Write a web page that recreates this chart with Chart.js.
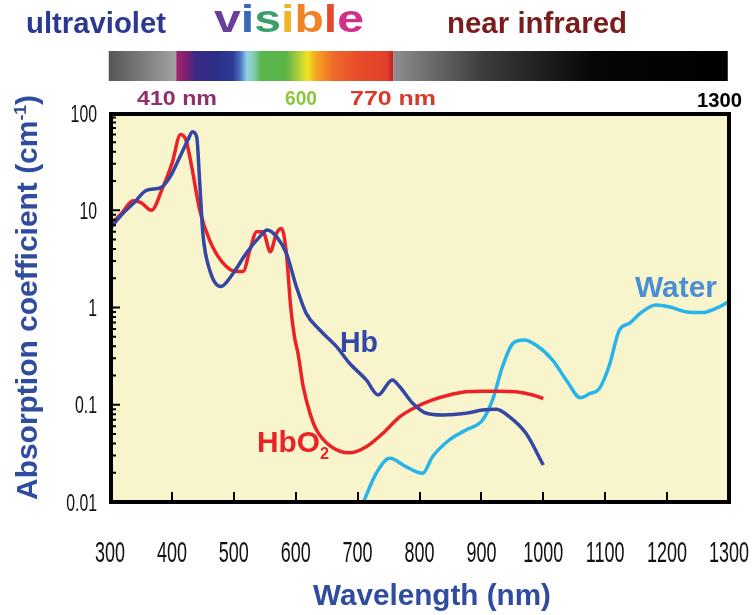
<!DOCTYPE html>
<html>
<head>
<meta charset="utf-8">
<title>Absorption spectra of Hb, HbO2 and water</title>
<script src="https://cdn.jsdelivr.net/npm/chart.js@4.4.1/dist/chart.umd.min.js"></script>
<style>
  html, body { margin: 0; padding: 0; background: #fff; }
  #spectra { display: block; }
</style>
</head>
<body>
<canvas id="spectra" width="753" height="615"></canvas>
<script>
// wavelength (nm) and absorption coefficient (cm-1) for each absorber
const hbNm = [300, 321, 338, 359, 383, 397, 413, 426, 433, 440, 445, 450, 461, 479, 499, 520, 542, 554, 569, 585, 601, 617, 639, 666, 687, 714, 733, 756, 768, 789, 811, 838, 875, 902, 924, 945, 972, 1000];
const hbMu = [6.5, 9.3, 11.8, 16, 17.2, 22, 35.5, 53, 64, 57, 19, 5.8, 2.43, 1.64, 2.25, 3.6, 5.35, 6.27, 5.35, 3.6, 1.64, 0.87, 0.587, 0.396, 0.267, 0.18, 0.126, 0.18, 0.153, 0.1035, 0.0817, 0.0785, 0.0817, 0.0883, 0.0897, 0.0754, 0.0508, 0.024];

const hbo2Nm = [300, 320, 337, 350, 367, 385, 400, 414, 423, 432, 445, 461, 482, 504, 515, 526, 537, 547, 559, 569, 577, 585, 592, 598, 604, 612, 623, 633, 655, 687, 714, 741, 768, 795, 821, 848, 875, 902, 929, 956, 983, 1000];
const hbo2Mu = [7.0, 9.5, 12.5, 12.0, 10.0, 17, 30, 60, 52, 28, 10, 4.9, 2.9, 2.35, 2.35, 3.9, 6.0, 6.0, 3.75, 5.8, 6.5, 3.6, 1.0, 0.5, 0.33, 0.155, 0.082, 0.056, 0.038, 0.032, 0.037, 0.051, 0.075, 0.095, 0.112, 0.126, 0.136, 0.138, 0.138, 0.136, 0.126, 0.116];

const waterNm = [708, 730, 752, 778, 805, 821, 848, 875, 902, 918, 934, 951, 969, 988, 1015, 1037, 1060, 1075, 1090, 1106, 1123, 1139, 1160, 1182, 1203, 1230, 1257, 1279, 1300];
const waterMu = [0.0095, 0.0197, 0.0281, 0.0231, 0.0197, 0.0292, 0.0434, 0.055, 0.0697, 0.112, 0.246, 0.428, 0.463, 0.411, 0.288, 0.18, 0.118, 0.13, 0.145, 0.246, 0.587, 0.687, 0.906, 1.06, 1.02, 0.906, 0.886, 0.98, 1.15];

const yTickValues = [0.01, 0.1, 1, 10, 100];
const yTickLabels = ['0.01', '0.1', '1', '10', '100'];

// colour strip above the plot: grey UV ramp, visible band, grey-to-black NIR ramp
const uvBand = [298, 407];
const visibleBand = [407, 758];
const nirBand = [758, 1298];
const visibleStops = [
  [407, '#a3246e'], [424, '#7a2070'], [437, '#3d2a86'], [469, '#2c2f88'], [498, '#2d3a94'],
  [510, '#4a6ec0'], [521, '#8fd3ea'], [531, '#86cdb8'], [545, '#58b54c'], [585, '#5cb447'],
  [606, '#b5d13a'], [619, '#f2e423'], [634, '#f6a323'], [660, '#ee6a2a'], [703, '#e84c2a'],
  [747, '#e0402a'], [756, '#c42424'], [758, '#b82020']
];

const HB_COLOR = '#3447a6';
const HBO2_COLOR = '#ec2227';
const WATER_COLOR = '#27b4ea';
const TITLE_BLUE = '#2f4c9e';
const SANS = "'Liberation Sans', Arial, sans-serif";

function toPoints(xs, ys) {
  return xs.map((x, i) => ({ x: x, y: ys[i] }));
}

// draw text starting at x, stretched/squeezed horizontally to the given width
function fitText(ctx, text, x, y, width, font, color) {
  ctx.save();
  ctx.font = font;
  ctx.fillStyle = color;
  ctx.textAlign = 'left';
  ctx.textBaseline = 'alphabetic';
  const w = ctx.measureText(text).width;
  ctx.translate(x, y);
  ctx.scale(width / w, 1);
  ctx.fillText(text, 0, 0);
  ctx.restore();
}

// narrow tick digits
function squeezeText(ctx, text, x, y, sx, align) {
  ctx.save();
  ctx.translate(x, y);
  ctx.scale(sx, 1);
  ctx.textAlign = align;
  ctx.fillText(text, 0, 0);
  ctx.restore();
}

const decorations = {
  id: 'decorations',
  beforeDraw(chart) {
    const ctx = chart.ctx;
    const area = chart.chartArea;
    const xs = chart.scales.x;
    ctx.save();
    ctx.fillStyle = '#ffffff';
    ctx.fillRect(0, 0, chart.width, chart.height);
    ctx.fillStyle = '#f8f5cd';
    ctx.fillRect(area.left, area.top, area.right - area.left, area.bottom - area.top);

    // colour strip
    const barTop = 51, barH = 30;
    let x0 = xs.getPixelForValue(uvBand[0]), x1 = xs.getPixelForValue(uvBand[1]);
    let g = ctx.createLinearGradient(x0, 0, x1, 0);
    g.addColorStop(0, '#565656');
    g.addColorStop(1, '#a2a2a2');
    ctx.fillStyle = g;
    ctx.fillRect(x0, barTop, x1 - x0, barH);

    x0 = xs.getPixelForValue(visibleBand[0]); x1 = xs.getPixelForValue(visibleBand[1]);
    g = ctx.createLinearGradient(x0, 0, x1, 0);
    visibleStops.forEach(([nm, c]) => {
      g.addColorStop((nm - visibleBand[0]) / (visibleBand[1] - visibleBand[0]), c);
    });
    ctx.fillStyle = g;
    ctx.fillRect(x0, barTop, x1 - x0, barH);

    x0 = xs.getPixelForValue(nirBand[0]); x1 = xs.getPixelForValue(nirBand[1]);
    g = ctx.createLinearGradient(x0, 0, x1, 0);
    g.addColorStop(0, '#8e8e8e');
    g.addColorStop(0.27, '#3c3c3c');
    g.addColorStop(0.6, '#060606');
    g.addColorStop(1, '#000000');
    ctx.fillStyle = g;
    ctx.fillRect(x0, barTop, x1 - x0, barH);

    // region names
    const bold = (px) => 'bold ' + px + 'px ' + SANS;
    fitText(ctx, 'ultraviolet', 26, 33, 140, bold(29), '#2b3990');
    fitText(ctx, 'near infrared', 447, 33, 180, bold(29), '#7b1c1c');

    const letters = ['v', 'i', 's', 'i', 'b', 'l', 'e'];
    const letterColors = ['#6a3f99', '#3a68b4', '#3aa06a', '#f0b428', '#f08424', '#e84a2e', '#d0308a'];
    ctx.font = bold(38);
    const full = ctx.measureText(letters.join('')).width;
    const sx = 150 / full;
    let cx = 214;
    letters.forEach((ch, i) => {
      ctx.save();
      ctx.font = bold(38);
      ctx.fillStyle = letterColors[i];
      ctx.textBaseline = 'alphabetic';
      ctx.translate(cx, 32);
      ctx.scale(sx, 1);
      ctx.fillText(ch, 0, 0);
      ctx.restore();
      cx += ctx.measureText(ch).width * sx;
    });

    fitText(ctx, '410 nm', 137, 105, 80, bold(21), '#8f2f6b');
    fitText(ctx, '600', 285, 105, 32, bold(21), '#8cc63e');
    fitText(ctx, '770 nm', 350, 105, 86, bold(21), '#d63a2b');
    fitText(ctx, '1300', 697, 107, 45, bold(21), '#000000');

    // axis titles
    fitText(ctx, 'Wavelength (nm)', 313, 605, 238, bold(29), TITLE_BLUE);

    ctx.save();
    ctx.translate(37, 500);
    ctx.rotate(-Math.PI / 2);
    ctx.fillStyle = TITLE_BLUE;
    ctx.textBaseline = 'alphabetic';
    ctx.font = bold(29);
    const main = 'Absorption coefficient (cm';
    const wMain = ctx.measureText(main).width;
    const wClose = ctx.measureText(')').width;
    ctx.font = bold(17);
    const wSup = ctx.measureText('-1').width;
    const s = 405 / (wMain + wSup + wClose);
    ctx.scale(s, 1);
    ctx.font = bold(29);
    ctx.fillText(main, 0, 0);
    ctx.font = bold(17);
    ctx.fillText('-1', wMain, -11);
    ctx.font = bold(29);
    ctx.fillText(')', wMain + wSup, 0);
    ctx.restore();

    ctx.restore();
  },
  afterDatasetsDraw(chart) {
    const ctx = chart.ctx;
    const area = chart.chartArea;
    const xs = chart.scales.x;
    const ys = chart.scales.y;
    ctx.save();

    // frame
    ctx.strokeStyle = '#000';
    ctx.lineWidth = 4;
    ctx.strokeRect(area.left + 1, area.top + 1, area.right - area.left - 1, area.bottom - area.top - 1);

    // inner tick marks
    ctx.lineWidth = 2;
    ctx.beginPath();
    xs.ticks.forEach(t => {
      const px = Math.round(xs.getPixelForValue(t.value));
      ctx.moveTo(px, area.bottom);
      ctx.lineTo(px, area.bottom - 10);
    });
    for (let d = 0; d < yTickValues.length; d++) {
      const base = yTickValues[d];
      const py = ys.getPixelForValue(base);
      ctx.moveTo(area.left, py);
      ctx.lineTo(area.left + 10, py);
      if (d < yTickValues.length - 1) {
        for (let m = 2; m <= 9; m++) {
          const pm = ys.getPixelForValue(base * m);
          ctx.moveTo(area.left, pm);
          ctx.lineTo(area.left + 6, pm);
        }
      }
    }
    ctx.stroke();

    // tick labels
    ctx.fillStyle = '#111';
    ctx.textBaseline = 'alphabetic';
    ctx.font = '30px ' + SANS;
    xs.ticks.forEach(t => {
      squeezeText(ctx, String(t.value), xs.getPixelForValue(t.value), 562, 0.6, 'center');
    });
    ctx.font = '24px ' + SANS;
    yTickValues.forEach((v, i) => {
      squeezeText(ctx, yTickLabels[i], 97, ys.getPixelForValue(v) + 8.5, 0.66, 'right');
    });

    // curve names
    const bold = (px) => 'bold ' + px + 'px ' + SANS;
    fitText(ctx, 'Hb', 340, 352, 38, bold(30), HB_COLOR);
    fitText(ctx, 'HbO', 257, 452, 63, bold(30), HBO2_COLOR);
    fitText(ctx, '2', 320, 459, 9, bold(17), HBO2_COLOR);
    fitText(ctx, 'Water', 635, 297, 82, bold(30), '#4a8fd2');

    ctx.restore();
  }
};

new Chart(document.getElementById('spectra'), {
  type: 'line',
  data: {
    datasets: [
      { label: 'Hb', data: toPoints(hbNm, hbMu), borderColor: HB_COLOR },
      { label: 'HbO2', data: toPoints(hbo2Nm, hbo2Mu), borderColor: HBO2_COLOR },
      { label: 'Water', data: toPoints(waterNm, waterMu), borderColor: WATER_COLOR }
    ]
  },
  options: {
    responsive: false,
    animation: false,
    devicePixelRatio: 1,
    layout: { padding: { top: 113, right: 24, left: 0, bottom: 0 } },
    plugins: { legend: { display: false }, tooltip: { enabled: false } },
    elements: {
      point: { radius: 0 },
      line: { borderWidth: 3.5, cubicInterpolationMode: 'monotone', fill: false }
    },
    scales: {
      x: {
        type: 'linear', min: 300, max: 1300,
        ticks: { stepSize: 100, display: false },
        grid: { display: false }, border: { display: false },
        afterFit: (s) => { s.height = 113; }
      },
      y: {
        type: 'logarithmic', min: 0.01, max: 100,
        ticks: { display: false },
        grid: { display: false }, border: { display: false },
        afterFit: (s) => { s.width = 110; }
      }
    }
  },
  plugins: [decorations]
});
</script>
</body>
</html>
